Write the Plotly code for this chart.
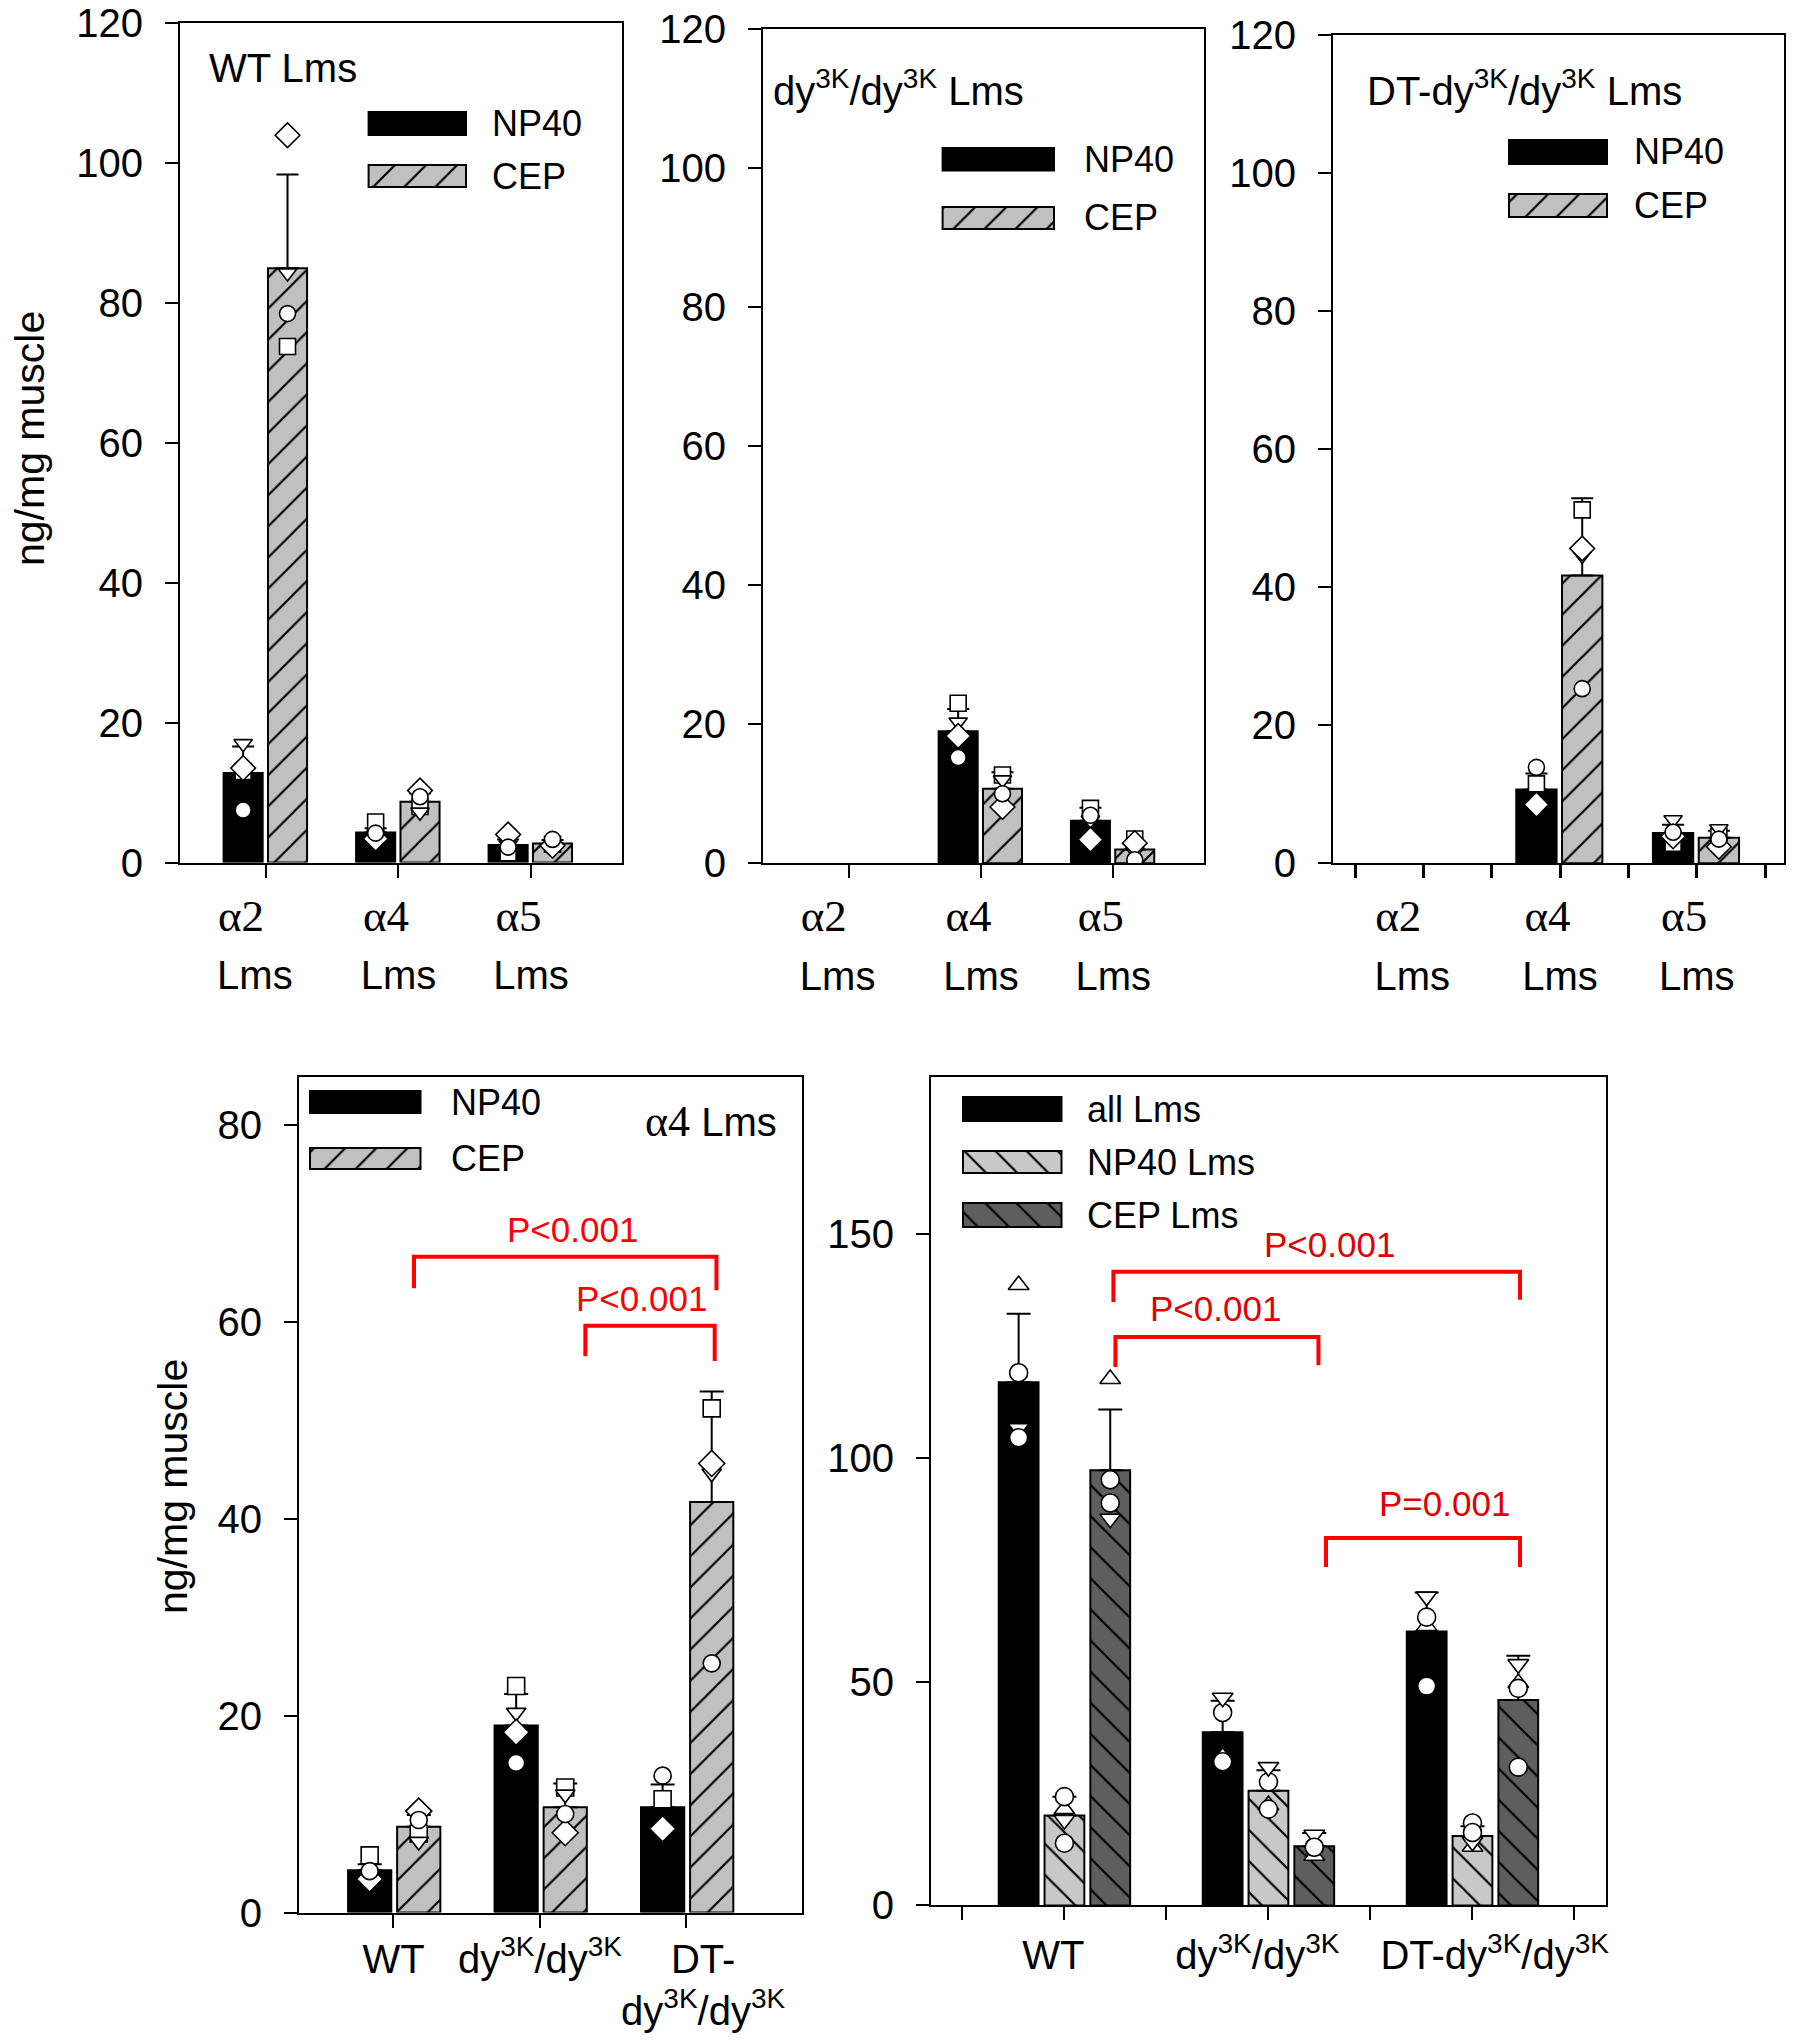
import plotly.graph_objects as go

W, H = 1793, 2040
FONT = "Liberation Sans"
SERIF = "Liberation Serif"

# ----------------------------- DATA -----------------------------
top_categories = ["α2", "α4", "α5"]
bottom_categories = ["WT", "dy<sup>3K</sup>/dy<sup>3K</sup>", "DT-|dy<sup>3K</sup>/dy<sup>3K</sup>"]
bottom_right_categories = ["WT", "dy<sup>3K</sup>/dy<sup>3K</sup>", "DT-dy<sup>3K</sup>/dy<sup>3K</sup>"]

# individual-point symbols (panels A-D)
pt_symbols = ["square", "triangle-down", "diamond", "circle"]

# Panel A: WT Lms
wt_np40 = [12.8, 4.3, 2.5]
wt_np40_err = [3.8, 0.6, 0.8]
wt_np40_pts = [[13.0, 5.8, 1.4], [17.0, 3.9, 2.5], [13.5, 3.4, 4.0], [7.5, 4.2, 2.2]]
wt_cep = [85.0, 8.7, 2.7]
wt_cep_err = [13.4, 1.2, 0.5]
wt_cep_pts = [[73.8, 8.0, 2.6], [84.3, 7.2, 2.2], [104.0, 10.3, 2.4], [78.5, 9.4, 3.3]]

# Panel B: dy3K/dy3K Lms
dy_np40 = [None, 19.0, 6.1]
dy_np40_err = [None, 3.2, 1.9]
dy_np40_pts = [[None, 23.0, 7.9], [None, 20.3, 6.2], [None, 18.3, 3.4], [None, 15.2, 6.9]]
dy_cep = [None, 10.7, 2.0]
dy_cep_err = [None, 2.4, 1.0]
dy_cep_pts = [[None, 12.7, 3.5], [None, 12.0, 1.7], [None, 8.1, 2.9], [None, 10.0, 0.5]]

# Panel C: DT-dy3K/dy3K Lms
dt_np40 = [None, 10.7, 4.4]
dt_np40_err = [None, 2.3, 1.2]
dt_np40_pts = [[None, 11.5, 2.9], [None, 8.7, 6.3], [None, 8.5, 3.9], [None, 13.9, 4.5]]
dt_cep = [None, 41.7, 3.7]
dt_cep_err = [None, 11.2, 1.0]
dt_cep_pts = [[None, 51.2, 3.9], [None, 44.6, 5.0], [None, 45.6, 2.4], [None, 25.3, 3.5]]

# Panel E: totals
all_pt_symbols = ["triangle-up", "circle", "triangle-down", "circle"]
all_lms = [116.9, 38.7, 61.2]
all_lms_err = [15.3, 7.0, 8.7]
all_lms_pts = [[138.6, 33.2, 62.4], [119.0, 43.1, 64.4], [106.6, 46.4, 69.0], [104.5, 32.1, 49.0]]
np40_lms = [20.1, 25.6, 15.5]
np40_lms_err = [4.2, 4.6, 2.2]
np40_lms_pts = [[21.5, 22.4, 13.1], [24.3, 27.6, 18.4], [19.1, 30.9, 14.2], [13.9, 21.5, 16.3]]
cep_lms = [97.2, 13.2, 45.9]
cep_lms_err = [13.6, 3.0, 9.9]
cep_lms_pts = [[117.6, 11.1, 49.7], [95.1, 13.0, 48.5], [86.4, 15.8, 53.9], [89.9, 13.0, 30.9]]

# significance brackets: (x_left, x_right, y_line, y_left_drop, y_right_drop, label, label_x, label_y)
sig_d = [(0.14, 2.205, 66.6, 63.4, 63.2, "P<0.001", 1.22, 69.4),
         (1.31, 2.193, 59.6, 56.5, 56.0, "P<0.001", 1.695, 62.4)]
sig_e = [(0.24, 2.233, 141.6, 134.8, 135.3, "P<0.001", 1.297, 147.6),
         (0.25, 1.245, 127.0, 120.3, 120.7, "P<0.001", 0.738, 133.3),
         (1.282, 2.233, 82.1, 75.6, 75.6, "P=0.001", 1.865, 89.9)]

# Panel D (α4 Lms) reuses the α4 values of panels A-C
a4_np40 = [wt_np40[1], dy_np40[1], dt_np40[1]]
a4_np40_err = [wt_np40_err[1], dy_np40_err[1], dt_np40_err[1]]
a4_np40_pts = [[wt_np40_pts[k][1], dy_np40_pts[k][1], dt_np40_pts[k][1]] for k in range(4)]
a4_cep = [wt_cep[1], dy_cep[1], dt_cep[1]]
a4_cep_err = [wt_cep_err[1], dy_cep_err[1], dt_cep_err[1]]
a4_cep_pts = [[wt_cep_pts[k][1], dy_cep_pts[k][1], dt_cep_pts[k][1]] for k in range(4)]

# ----------------------------- STYLE -----------------------------
BLACK = "black"
GRAY = "#c0c0c0"
LIGHT = "#c8c8c8"
DARK = "#5e5e5e"
RED = "#ff0000"
NB = "&nbsp;"


def px(x):
    return x / W


def py(y):
    return 1 - y / H


fig = go.Figure()


def add_bar(k, vals, errs, offset, width, color, pattern=None, cap=11):
    xs = list(range(len(vals)))
    marker = dict(color=color, line=dict(color=BLACK, width=2))
    if pattern:
        marker["pattern"] = dict(shape=pattern, fgcolor=BLACK, bgcolor=color,
                                 size=22, solidity=0.1, fillmode="replace")
    fig.add_trace(go.Bar(
        x=xs, y=vals, offset=offset, width=width, marker=marker,
        error_y=dict(type="data", array=errs, arrayminus=[0] * len(vals),
                     symmetric=False, color=BLACK, thickness=2, width=cap),
        xaxis="x" if k == 1 else f"x{k}", yaxis="y" if k == 1 else f"y{k}",
        showlegend=False, hoverinfo="skip"))


def add_points(k, pts, symbols, offset, width, size=16):
    for sym, ys in zip(symbols, pts):
        xs = [i + offset + width / 2 for i in range(len(ys))]
        fig.add_trace(go.Scatter(
            x=xs, y=ys, mode="markers",
            marker=dict(symbol=sym, size=size + (3 if sym == "diamond" else 0),
                        color="white", line=dict(color=BLACK, width=1.6)),
            xaxis="x" if k == 1 else f"x{k}", yaxis="y" if k == 1 else f"y{k}",
            showlegend=False, hoverinfo="skip"))


# panels A-C
BW = 0.295
OFF_N, OFF_C = -0.32, 0.015
for k, (n, ne, npts, c, ce, cpts) in enumerate([
        (wt_np40, wt_np40_err, wt_np40_pts, wt_cep, wt_cep_err, wt_cep_pts),
        (dy_np40, dy_np40_err, dy_np40_pts, dy_cep, dy_cep_err, dy_cep_pts),
        (dt_np40, dt_np40_err, dt_np40_pts, dt_cep, dt_cep_err, dt_cep_pts)], start=1):
    add_bar(k, n, ne, OFF_N, BW, BLACK)
    add_bar(k, c, ce, OFF_C, BW, GRAY, "/")
    add_points(k, npts, pt_symbols, OFF_N, BW)
    add_points(k, cpts, pt_symbols, OFF_C, BW)

# panel D
add_bar(4, a4_np40, a4_np40_err, -0.31, 0.295, BLACK, cap=12)
add_bar(4, a4_cep, a4_cep_err, 0.025, 0.295, GRAY, "/", cap=12)
add_points(4, a4_np40_pts, pt_symbols, -0.31, 0.295, size=17)
add_points(4, a4_cep_pts, pt_symbols, 0.025, 0.295, size=17)

# panel E
BW5 = 0.195
for vals, errs, pts, off, col, pat in [
        (all_lms, all_lms_err, all_lms_pts, -0.322, BLACK, None),
        (np40_lms, np40_lms_err, np40_lms_pts, -0.0975, LIGHT, "\\"),
        (cep_lms, cep_lms_err, cep_lms_pts, 0.127, DARK, "\\")]:
    add_bar(5, vals, errs, off, BW5, col, pat, cap=12)
    add_points(5, pts, all_pt_symbols, off, BW5, size=18)

# ----------------------------- LEGEND SWATCHES (overlay axis in pixels) -----------------------------
legend_rows = [
    # (left, right, top, bottom, colour, pattern, label, text_x)
    (368.6, 466, 112, 135, BLACK, None, "NP40", 490),
    (368.6, 466, 165, 187, GRAY, "/", "CEP", 490),
    (942.6, 1054, 148, 170.5, BLACK, None, "NP40", 1082),
    (942.6, 1054, 207, 229, GRAY, "/", "CEP", 1082),
    (1509, 1607, 140, 164, BLACK, None, "NP40", 1632),
    (1509, 1607, 194, 217, GRAY, "/", "CEP", 1632),
    (310, 420.5, 1091, 1113, BLACK, None, "NP40", 449),
    (310, 420.5, 1148, 1169, GRAY, "/", "CEP", 449),
    (963, 1061.5, 1097, 1121, BLACK, None, "all Lms", 1085),
    (963, 1061.5, 1151, 1173, LIGHT, "\\", "NP40 Lms", 1085),
    (963, 1061.5, 1203, 1227, DARK, "\\", "CEP Lms", 1085),
]
annotations = []
for (l, r, t, b, col, pat, lab, tx) in legend_rows:
    marker = dict(color=col, line=dict(color=BLACK, width=2))
    if pat:
        marker["pattern"] = dict(shape=pat, fgcolor=BLACK, bgcolor=col, size=22,
                                 solidity=0.1, fillmode="replace")
    fig.add_trace(go.Bar(orientation="h", y=[(t + b) / 2], x=[r - l], base=[l],
                         width=[b - t], marker=marker, xaxis="x6", yaxis="y6",
                         showlegend=False, hoverinfo="skip"))
    annotations.append(dict(x=px(tx), y=py((t + b) / 2), xref="paper", yref="paper",
                            text=lab, showarrow=False, xanchor="left", yanchor="middle",
                            font=dict(family=FONT, size=36, color=BLACK)))

# ----------------------------- AXES -----------------------------


def axis_common(size=40):
    return dict(showline=True, linewidth=2, linecolor=BLACK, mirror=True,
                showgrid=False, zeroline=False, ticks="outside", ticklen=13,
                tickwidth=2, tickcolor=BLACK, automargin=False, tickangle=0,
                tickfont=dict(family=FONT, size=size, color=BLACK), fixedrange=True)


# tick labels (padding with non-breaking spaces to mimic the original placement)
top_pad = [(4, 2), (2, 0), (2, 0)]
top_ticktext = [f"<span style='font-family:{SERIF}'>{c}</span>{NB * a}<br>"
                f"<span style='font-size:40px'>Lms{NB * b}</span>"
                for c, (a, b) in zip(top_categories, top_pad)]
bl_pad = [("", ""), ("", ""), (NB * 3, "")]
bottom_ticktext = ["<br>".join(pre + part + post for part in c.split("|"))
                   for c, (pre, post) in zip(bottom_categories, bl_pad)]
br_pad = [("", NB * 2), ("", NB * 2), (NB * 4, "")]
bottom_right_ticktext = [pre + c + post for c, (pre, post) in zip(bottom_right_categories, br_pad)]

panels = {
    1: dict(x=(180, 622), y=(23.4, 862.5), xr=(-0.649, 2.687), yr=(0, 120)),
    2: dict(x=(763, 1204), y=(28.6, 863.3), xr=(-0.648, 2.686), yr=(0, 120)),
    3: dict(x=(1333, 1784), y=(35, 863.3), xr=(-0.661, 2.639), yr=(0, 120)),
    4: dict(x=(299, 802), y=(1076.5, 1912.5), xr=(-0.645, 2.789), yr=(0, 84.9)),
    5: dict(x=(931, 1605.5), y=(1076.5, 1905.4), xr=(-0.654, 2.652), yr=(0, 185.2)),
}
x_standoff = {1: -1, 2: -1, 3: -1, 4: -3, 5: 1}
layout_axes = {}
for k, p in panels.items():
    xs = "" if k == 1 else str(k)
    xa = axis_common(45 if k <= 3 else 40)
    ya = axis_common(40)
    xa.update(domain=[px(p["x"][0]), px(p["x"][1])], range=list(p["xr"]), anchor=f"y{xs}")
    ya.update(domain=[py(p["y"][1]), py(p["y"][0])], range=list(p["yr"]), anchor=f"x{xs}")
    if k in (1, 2):
        xa.update(tickvals=[0, 1, 2], ticktext=top_ticktext)
    elif k == 3:
        xa.update(tickvals=[-0.5, 0, 0.5, 1, 1.5, 2, 2.5],
                  ticktext=["", top_ticktext[0], "", top_ticktext[1], "", top_ticktext[2], ""],
                  tickwidth=3)
    elif k == 4:
        xa.update(tickvals=[0, 1, 2], ticktext=bottom_ticktext)
    else:
        xa.update(tickvals=[-0.5, 0, 0.5, 1, 1.5, 2, 2.5],
                  ticktext=["", bottom_right_ticktext[0], "", bottom_right_ticktext[1], "",
                            bottom_right_ticktext[2], ""], tickwidth=2)
    if k <= 3:
        ya.update(tickvals=[0, 20, 40, 60, 80, 100, 120])
    elif k == 4:
        ya.update(tickvals=[0, 20, 40, 60, 80])
    else:
        ya.update(tickvals=[0, 50, 100, 150])
    xa["ticklabelstandoff"] = x_standoff[k]
    ya["ticklabelstandoff"] = 14
    layout_axes[f"xaxis{xs}"] = xa
    layout_axes[f"yaxis{xs}"] = ya

layout_axes["xaxis6"] = dict(domain=[0, 1], range=[0, W], visible=False, anchor="y6",
                             fixedrange=True, automargin=False)
layout_axes["yaxis6"] = dict(domain=[0, 1], range=[H, 0], visible=False, anchor="x6",
                             fixedrange=True, automargin=False)

# ----------------------------- TEXT -----------------------------
TITLE_FONT = dict(family=FONT, size=40, color=BLACK)
annotations += [
    dict(x=px(207), y=py(68), text="WT Lms", xanchor="left", yanchor="middle", font=TITLE_FONT),
    dict(x=px(771), y=py(88), text="dy<sup>3K</sup>/dy<sup>3K</sup> Lms", xanchor="left",
         yanchor="middle", font=TITLE_FONT),
    dict(x=px(1365), y=py(88), text="DT-dy<sup>3K</sup>/dy<sup>3K</sup> Lms", xanchor="left",
         yanchor="middle", font=TITLE_FONT),
    dict(x=px(779), y=py(1121),
         text=f"<span style='font-family:{SERIF};font-size:44px'>α4</span> Lms",
         xanchor="right", yanchor="middle", font=TITLE_FONT),
    dict(x=px(30), y=py(439), text="ng/mg muscle", textangle=-90, xanchor="center",
         yanchor="middle", font=dict(family=FONT, size=41, color=BLACK)),
    dict(x=px(173), y=py(1487), text="ng/mg muscle", textangle=-90, xanchor="center",
         yanchor="middle", font=dict(family=FONT, size=41, color=BLACK)),
]
for a in annotations:
    a.setdefault("xref", "paper")
    a.setdefault("yref", "paper")
    a.setdefault("showarrow", False)

shapes = []
for panel, sigs, tcol in [(4, sig_d, RED), (5, sig_e, "#e00000")]:
    for (xl, xr, yl, dl, dr, lab, lx, ly) in sigs:
        shapes.append(dict(type="path", xref=f"x{panel}", yref=f"y{panel}",
                           path=f"M {xl},{dl} L {xl},{yl} L {xr},{yl} L {xr},{dr}",
                           line=dict(color=RED, width=4)))
        annotations.append(dict(x=lx, y=ly, xref=f"x{panel}", yref=f"y{panel}", text=lab,
                                showarrow=False, xanchor="center", yanchor="middle",
                                font=dict(family=FONT, size=35, color=tcol)))

fig.update_layout(
    template="none",
    width=W, height=H, margin=dict(l=0, r=0, t=0, b=0, pad=0, autoexpand=False),
    paper_bgcolor="white", plot_bgcolor="rgba(0,0,0,0)",
    barmode="overlay", showlegend=False,
    font=dict(family=FONT, color=BLACK),
    annotations=annotations, shapes=shapes,
    **layout_axes,
)

fig.write_html("out.html", config=dict(displayModeBar=False, staticPlot=True),
               post_script="document.body.style.margin='0px';document.body.style.overflow='hidden';")
